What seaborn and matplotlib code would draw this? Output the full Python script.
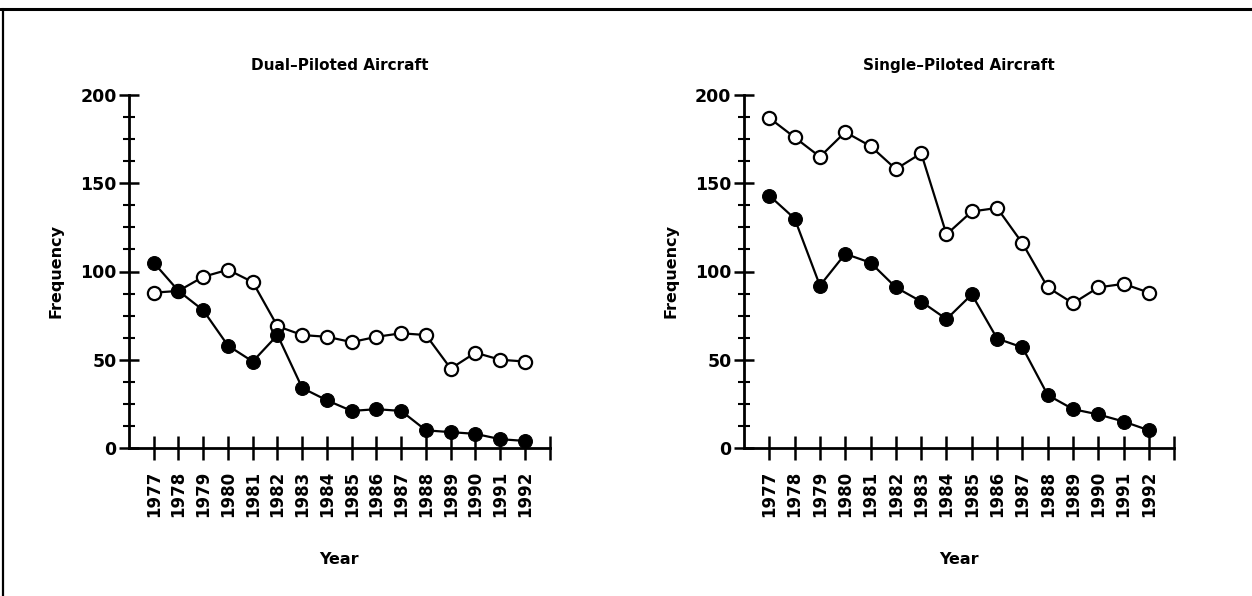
import numpy as np
import pandas as pd
import matplotlib
matplotlib.use("Agg")
import matplotlib.pyplot as plt
from matplotlib.lines import Line2D
from matplotlib.ticker import MultipleLocator
import seaborn as sns

years = list(range(1977, 1993))
dual_filled = [105, 89, 78, 58, 49, 64, 34, 27, 21, 22, 21, 10, 9, 8, 5, 4]
dual_open = [88, 89, 97, 101, 94, 69, 64, 63, 60, 63, 65, 64, 45, 54, 50, 49]
single_filled = [143, 130, 92, 110, 105, 91, 83, 73, 87, 62, 57, 30, 22, 19, 15, 10]
single_open = [187, 176, 165, 179, 171, 158, 167, 121, 134, 136, 116, 91, 82, 91, 93, 88]
titles = ["Dual\u2013Piloted Aircraft", "Single\u2013Piloted Aircraft"]
xlabel = "Year"
ylabel = "Frequency"

sns.set_style("white")
plt.rcParams["font.family"] = ["DejaVu Sans"]
plt.rcParams["text.color"] = "black"
plt.rcParams["axes.labelcolor"] = "black"

W, H = 1252, 596
fig = plt.figure(figsize=(W / 100, H / 100), dpi=100)

label_font = dict(fontweight="bold", color="black")

panels = [
    (129, 549.7, titles[0], dual_open, dual_filled),
    (744, 1174.3, titles[1], single_open, single_filled),
]
for x0, x1, title, op, fi in panels:
    ax = fig.add_axes([x0 / W, 1 - 448 / H, (x1 - x0) / W, 353 / H])
    df = pd.DataFrame({"year": years, "open": op, "filled": fi})
    sns.lineplot(data=df, x="year", y="open", ax=ax, color="black", lw=1.6,
                 marker="o", markersize=9.5, markerfacecolor="white",
                 markeredgecolor="black", markeredgewidth=1.6, clip_on=False)
    sns.lineplot(data=df, x="year", y="filled", ax=ax, color="black", lw=1.6,
                 marker="o", markersize=10, markerfacecolor="black",
                 markeredgecolor="black", clip_on=False)
    ax.set_xlim(1976, 1993)
    ax.set_ylim(0, 200)
    ax.set_xticks(years + [1993])
    ax.set_xticklabels([str(y) for y in years] + [""], rotation=90,
                       fontsize=12, fontweight="bold", color="black")
    ax.set_yticks([0, 50, 100, 150, 200])
    ax.set_yticklabels(["0", "50", "100", "150", "200"], fontsize=12.5,
                       fontweight="bold", color="black")
    ax.yaxis.set_minor_locator(MultipleLocator(12.5))
    ax.tick_params(axis="x", which="major", direction="inout", length=17,
                   width=1.8, pad=8, colors="black", bottom=True)
    ax.tick_params(axis="y", which="major", direction="inout", length=14,
                   width=1.8, pad=2, colors="black", left=True)
    ax.tick_params(axis="y", which="minor", direction="inout", length=9,
                   width=1.5, left=True, colors="black")
    for s in ["top", "right"]:
        ax.spines[s].set_visible(False)
    for s in ["left", "bottom"]:
        ax.spines[s].set_linewidth(2)
        ax.spines[s].set_color("black")
    ax.set_title(title, fontsize=11, pad=18, **label_font)
    ax.set_xlabel(xlabel, fontsize=11.5, labelpad=25, **label_font)
    ax.set_ylabel(ylabel, fontsize=11.5, labelpad=12, **label_font)

fig.add_artist(Line2D([0, 1], [1 - 9 / H, 1 - 9 / H], transform=fig.transFigure,
                      color="black", lw=2.2))
fig.add_artist(Line2D([2.5 / W, 2.5 / W], [0, 1 - 9 / H], transform=fig.transFigure,
                      color="black", lw=1.6))

fig.savefig("out.png", dpi=100, facecolor="white")
